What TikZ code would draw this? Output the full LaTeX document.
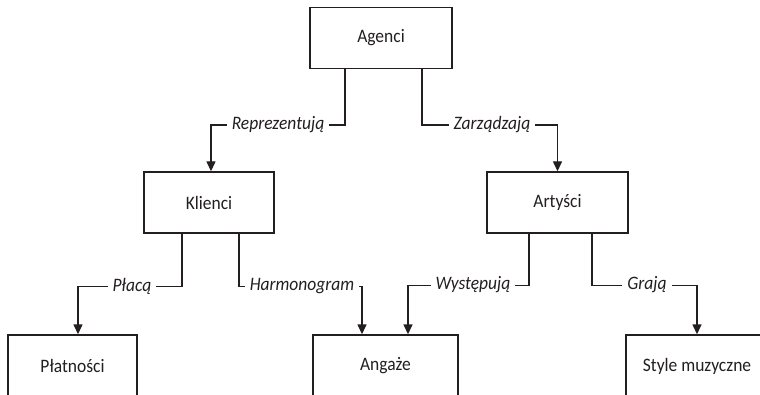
\documentclass[tikz,border=0pt]{standalone}
\usepackage{fontspec}
\setmainfont{Carlito}[FakeStretch=0.92]
\usetikzlibrary{arrows.meta}
\definecolor{ink}{HTML}{231F20}
\tikzset{
  box/.style={draw=ink, line width=1.4pt, minimum height=61pt, inner sep=0pt,
    text=ink, font=\fontsize{19}{22}\selectfont},
  lbl/.style={fill=white, inner xsep=5pt, inner ysep=2pt, text=ink,
    font=\fontsize{19}{22}\selectfont\itshape},
  conn/.style={draw=ink, line width=1.4pt, -{Triangle[width=9pt,length=10pt]}}
}
\begin{document}
\begin{tikzpicture}[x=1pt,y=-1pt]
\useasboundingbox (0,0) rectangle (760,395);
\clip (0,0) rectangle (760,395);
\fill[white] (0,0) rectangle (760,395);
% boxes
\node[box, minimum width=142pt] (A) at (381,38) {Agenci};
\node[box, minimum width=130pt] (K) at (209,202.5) {Klienci};
\node[box, minimum width=141pt] (R) at (557.5,202.5) {Artyści};
\node[box, minimum width=129pt, minimum height=62pt] (P) at (72.5,366) {Płatności};
\node[box, minimum width=145pt, minimum height=62pt] (G) at (385.5,366) {Angaże};
\node[box, minimum width=142pt, minimum height=62pt] (S) at (697,366) {Style muzyczne};
% connectors
\draw[conn] ([xshift=-36pt]A.south) -- ++(0,56) -| ([xshift=2pt]K.north);
\draw[conn] ([xshift=41pt]A.south) -- ++(0,56) -| (R.north);
\draw[conn] ([xshift=-27pt]K.south) -- ++(0,53) -| ([xshift=5.5pt]P.north);
\draw[conn] ([xshift=30pt]K.south) -- ++(0,53) -| ([xshift=-23.5pt]G.north);
\draw[conn] ([xshift=-28.5pt]R.south) -- ++(0,52) -| ([xshift=22.5pt]G.north);
\draw[conn] ([xshift=34.5pt]R.south) -- ++(0,52) -| (S.north);
% labels
\node[lbl] (l1) at (278,125) {Reprezentują};
\node[lbl] (l2) at (492,125) {Zarządzają};
\node[lbl] (l3) at (132,286) {Płacą};
\node[lbl] (l4) at (302,286) {Harmonogram};
\node[lbl] (l5) at (473,285) {Występują};
\node[lbl] (l6) at (647,285) {Grają};
\end{tikzpicture}
\end{document}
